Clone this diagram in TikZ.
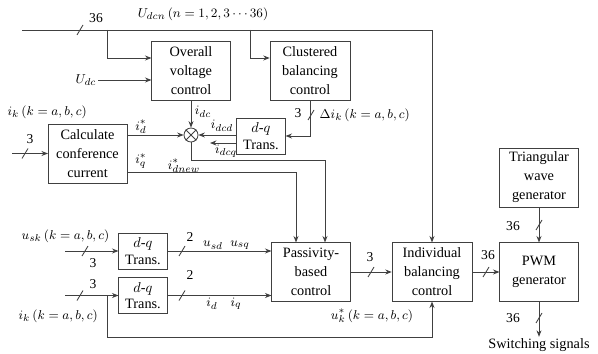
\documentclass[tikz,border=0pt]{standalone}
\usepackage{fontspec}
\setmainfont{Liberation Serif}
\usetikzlibrary{arrows.meta, positioning, calc}

\begin{document}
\begin{tikzpicture}[x=0.7pt, y=-0.7pt,
        blok/.style={rectangle, draw=black!75, minimum width=55pt, minimum height=41pt, align=center, inner sep=1pt, font=\fontsize{10}{13.3}\selectfont},
        dq/.style={blok, minimum width=34pt, minimum height=25pt, font=\fontsize{10}{11.5}\selectfont},
        lbl/.style={font=\fontsize{9.5}{11}\selectfont, inner sep=1pt},
        arr/.style={->, >={Stealth[length=4.5pt, width=3.5pt]}, draw=black!75, line width=0.6pt}]
    \useasboundingbox (0,0) rectangle (598,354);
    \node[blok] (ovc) at (191,71) {Overall\\voltage\\control};
    \node[blok, minimum width=56pt] (cbc) at (310,71) {Clustered\\balancing\\control};
    \node[blok] (ccc) at (87.5,153.5) {Calculate\\conference\\current};
    \node[dq] (dqa) at (261,136) {$d$-$q$\\Trans.};
    \node[circle, draw=black!75, line width=0.6pt, minimum size=9.8pt, inner sep=0pt] (sum) at (191,135) {};
    \node[blok] (pbc) at (311,272) {Passivity-\\based\\control};
    \node[blok, minimum width=56pt] (ibc) at (432,272) {Individual\\balancing\\control};
    \node[blok] (pwm) at (539,272) {PWM\\generator};
    \node[blok] (twg) at (539,177.5) {Triangular\\wave\\generator};
    \node[dq] (dqu) at (143,251) {$d$-$q$\\Trans.};
    \node[dq] (dqi) at (143,295.5) {$d$-$q$\\Trans.};
    \node[blok, draw=none, minimum width=0pt, minimum height=0pt] (sw) at (539,345) {Switching signals};
    \node[lbl, anchor=east] (udc) at (98,80) {$U_{dc}$};
    \coordinate (busl) at (22,30);
    \coordinate (busr) at (432,30);
    \coordinate (ba) at (107,58);
    \coordinate (bb) at (250,58);
    \coordinate (tn) at (325,160);
    \coordinate (tq) at (296,172);
    \coordinate (inc) at (12,153.5);
    \coordinate (inu) at (65,251);
    \coordinate (ini) at (65,295.5);
    \coordinate (bi) at (107,337);
    \coordinate (idq) at (210,143);
    \draw[black!75, line width=0.6pt] (sum.north west) -- (sum.south east) (sum.north east) -- (sum.south west);
    \draw[arr] (busl) -- (busr) -- (ibc.north);
    \draw[arr] (ba |- busl) -- (ba) -- (ba -| ovc.west);
    \draw[arr] (bb |- busl) -- (bb) -- (bb -| cbc.west);
    \draw[arr] (udc) -- (udc -| ovc.west);
    \draw[arr] (cbc.south) |- (dqa.east);
    \draw[arr] (ovc.south) -- (sum.north);
    \draw[arr] (sum.west -| ccc.east) -- (sum.west);
    \draw[arr] (sum.east -| dqa.west) -- (sum.east);
    \draw[arr] (idq -| dqa.west) -- (idq);
    \draw[arr] (sum.south) |- (tn) -- (tn |- pbc.north);
    \draw[arr] (ccc.east |- tq) -- (tq) -- (tq |- pbc.north);
    \draw[arr] (inc) -- (ccc.west);
    \draw[arr] (inu) -- (dqu.west);
    \draw[arr] (ini) -- (dqi.west);
    \draw[arr] (dqu.east) -- (dqu.east -| pbc.west);
    \draw[arr] (dqi.east) -- (dqi.east -| pbc.west);
    \draw[arr] (ini -| bi) -- (bi) -| (ibc.south);
    \draw[arr] (pbc) -- (ibc);
    \draw[arr] (ibc) -- (pwm);
    \draw[arr] (twg) -- (pwm);
    \draw[arr] (pwm) -- (sw);
    \foreach \p in {(80,30),(311,115),(25,153.5),(85,251),(80,295.5),(182,251),(182,295.5),(371,272),(486,272),(539,225),(539,318)}
        \draw[black!75, line width=0.6pt] \p +(-3,5) -- +(3,-5);
    \node[lbl] (n36a) at (96,18) {36};
    \node[lbl] (udcn) at (203,14) {$U_{dcn}\,(n=1,2,3\cdots36)$};
    \node[lbl] (n3a) at (298,113) {3};
    \node[lbl, anchor=west] (dik) at (318,115) {$\Delta i_k\,(k=a,b,c)$};
    \node[lbl] (idc) at (203,112) {$i_{dc}$};
    \node[lbl] (idref) at (141,127) {$i_d^*$};
    \node[lbl] (iqref) at (141,161) {$i_q^*$};
    \node[lbl] (idcd) at (222,126) {$i_{dcd}$};
    \node[lbl] (idcq) at (226,151) {$i_{dcq}$};
    \node[lbl] (idnew) at (184,166) {$i_{dnew}^*$};
    \node[lbl] (n3b) at (30,139) {3};
    \node[lbl, anchor=west] (ika) at (6,112) {$i_k\,(k=a,b,c)$};
    \node[lbl, anchor=west] (usk) at (20,236) {$u_{sk}\,(k=a,b,c)$};
    \node[lbl] (n3c) at (93,263) {3};
    \node[lbl] (n3d) at (93,284) {3};
    \node[lbl, anchor=west] (ikb) at (17,316) {$i_k\,(k=a,b,c)$};
    \node[lbl] (n2a) at (190,237) {2};
    \node[lbl] (n2b) at (190,275) {2};
    \node[lbl] (usd) at (213,245) {$u_{sd}$};
    \node[lbl] (usq) at (240,245) {$u_{sq}$};
    \node[lbl] (id) at (212,304) {$i_d$};
    \node[lbl] (iq) at (236,304) {$i_q$};
    \node[lbl] (n3e) at (370,257) {3};
    \node[lbl] (n36b) at (488,255) {36};
    \node[lbl] (n36c) at (513,226) {36};
    \node[lbl] (n36d) at (513,318) {36};
    \node[lbl] (uk) at (372,316) {$u_k^*\,(k=a,b,c)$};
\end{tikzpicture}
\end{document}
